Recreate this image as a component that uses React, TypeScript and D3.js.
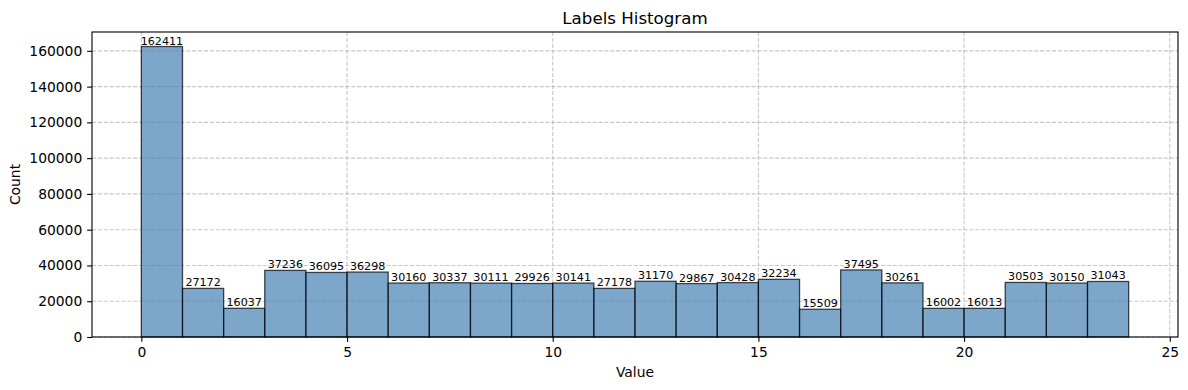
import React, { useEffect, useRef } from 'react';
import * as d3 from 'd3';

// bin counts for labels 0..23
const counts = [
  162411, 27172, 16037, 37236, 36095, 36298, 30160, 30337, 30111, 29926, 30141, 27178,
  31170, 29867, 30428, 32234, 15509, 37495, 30261, 16002, 16013, 30503, 30150, 31043,
];
const xTicks = [0, 5, 10, 15, 20, 25];
const yTicks = [0, 20000, 40000, 60000, 80000, 100000, 120000, 140000, 160000];

const App: React.FC = () => {
  const ref = useRef<SVGSVGElement>(null);

  useEffect(() => {
    document.body.style.margin = '0';
    const svg = d3.select(ref.current);
    svg.selectAll('*').remove();

    const width = 1188;
    const height = 390;
    const marginTop = 32;
    const marginRight = 10;
    const marginBottom = 53;
    const marginLeft = 92;
    const pt = 100 / 72; // matplotlib points -> px

    const n = counts.length;
    const x = d3.scaleLinear()
      .domain([-0.05 * n, n * 1.05])
      .range([marginLeft, width - marginRight]);
    const yMax = d3.max(counts) * 1.05;
    const y = d3.scaleLinear()
      .domain([0, yMax])
      .range([height - marginBottom, marginTop]);

    svg.attr('font-family', 'DejaVu Sans, sans-serif');

    // grid
    const grid = svg.append('g')
      .attr('stroke', '#b0b0b0')
      .attr('stroke-opacity', 0.7)
      .attr('stroke-dasharray', `${3.7 * 0.8 * pt},${1.6 * 0.8 * pt}`)
      .attr('stroke-width', 0.8 * pt);
    grid.selectAll('line.v')
      .data(xTicks)
      .join('line')
      .attr('class', 'v')
      .attr('x1', d => x(d)).attr('x2', d => x(d))
      .attr('y1', marginTop).attr('y2', height - marginBottom);
    grid.selectAll('line.h')
      .data(yTicks)
      .join('line')
      .attr('class', 'h')
      .attr('x1', marginLeft).attr('x2', width - marginRight)
      .attr('y1', d => y(d)).attr('y2', d => y(d));

    // bars
    svg.append('g')
      .selectAll('rect')
      .data(counts)
      .join('rect')
      .attr('x', (d, i) => x(i))
      .attr('width', (d, i) => x(i + 1) - x(i))
      .attr('y', d => y(d))
      .attr('height', d => y(0) - y(d))
      .attr('fill', 'rgba(70,130,180,0.7)')
      .attr('stroke', 'rgba(0,0,0,0.7)')
      .attr('stroke-width', 1.3);

    // value labels
    svg.append('g')
      .attr('font-size', 8 * pt)
      .attr('text-anchor', 'middle')
      .selectAll('text')
      .data(counts)
      .join('text')
      .attr('x', (d, i) => x(i + 0.5))
      .attr('y', d => y(d) - 2)
      .text(d => d);

    // frame
    svg.append('rect')
      .attr('x', marginLeft)
      .attr('y', marginTop)
      .attr('width', width - marginRight - marginLeft)
      .attr('height', height - marginBottom - marginTop)
      .attr('fill', 'none')
      .attr('stroke', 'black')
      .attr('stroke-width', 0.8 * pt);

    const tick = 3.5 * pt;

    // axes
    svg.append('g')
      .attr('transform', `translate(0,${height - marginBottom})`)
      .call(d3.axisBottom(x).tickValues(xTicks).tickSize(tick).tickPadding(tick).tickFormat(d3.format('d')))
      .call(g => g.select('.domain').remove())
      .call(g => g.selectAll('line').attr('stroke-width', 0.8 * pt))
      .call(g => g.selectAll('text').attr('font-size', 10 * pt).attr('font-family', 'DejaVu Sans, sans-serif'));

    svg.append('g')
      .attr('transform', `translate(${marginLeft},0)`)
      .call(d3.axisLeft(y).tickValues(yTicks).tickSize(tick).tickPadding(tick).tickFormat(d3.format('d')))
      .call(g => g.select('.domain').remove())
      .call(g => g.selectAll('line').attr('stroke-width', 0.8 * pt))
      .call(g => g.selectAll('text').attr('font-size', 10 * pt).attr('font-family', 'DejaVu Sans, sans-serif'));

    // labels
    svg.append('text')
      .attr('x', (marginLeft + width - marginRight) / 2)
      .attr('y', 24)
      .attr('text-anchor', 'middle')
      .attr('font-size', 12 * pt)
      .text('Labels Histogram');

    svg.append('text')
      .attr('x', (marginLeft + width - marginRight) / 2)
      .attr('y', 377)
      .attr('text-anchor', 'middle')
      .attr('font-size', 10 * pt)
      .text('Value');

    svg.append('text')
      .attr('transform', `translate(19.5,${(marginTop + height - marginBottom) / 2}) rotate(-90)`)
      .attr('text-anchor', 'middle')
      .attr('font-size', 10 * pt)
      .text('Count');
  }, []);

  return <svg ref={ref} width={1188} height={390} style={{ display: 'block' }} />;
};

export default App;
